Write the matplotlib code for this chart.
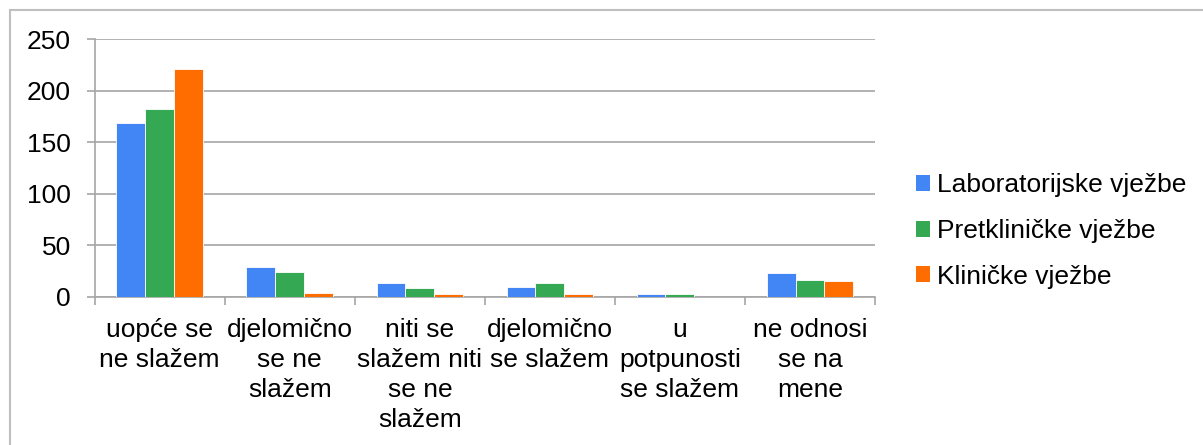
import numpy as np
import matplotlib.pyplot as plt
from matplotlib.patches import Rectangle, Patch

plt.rcParams['font.family'] = ['Liberation Sans', 'DejaVu Sans']

categories = ['uopće se\nne slažem', 'djelomično\nse ne\nslažem', 'niti se\nslažem niti\nse ne\nslažem',
              'djelomično\nse slažem', 'u\npotpunosti\nse slažem', 'ne odnosi\nse na\nmene']
series_names = ['Laboratorijske vježbe', 'Pretkliničke vježbe', 'Kliničke vježbe']
laboratorijske = [169, 29, 13, 9, 3, 23]
pretklinicke = [182, 24, 8, 13, 3, 16]
klinicke = [221, 4, 3, 3, 0, 15]
colors = ['#4285F4', '#34A853', '#FF6D01']

fs = 19
grey = '#A6A6A6'

fig = plt.figure(figsize=(12.03, 4.45), dpi=100)
ax = fig.add_axes([94.7 / 1203, 148.3 / 445, 780.3 / 1203, 257.4 / 445])

x = np.arange(len(categories))
w = 0.222
for i, (vals, c) in enumerate(zip([laboratorijske, pretklinicke, klinicke], colors)):
    ax.bar(x + (i - 1) * w, vals, w, color=c, edgecolor='white', linewidth=0.6, zorder=3)

ax.set_xlim(-0.5, len(categories) - 0.5)
ax.set_ylim(0, 250)
ax.set_yticks(np.arange(0, 251, 50))
ax.grid(axis='y', color=grey, linewidth=1.2, zorder=0)
ax.set_xticks(x)
ax.set_xticklabels(categories, fontsize=fs, linespacing=1.33)
ax.set_xticks(np.arange(-0.5, len(categories), 1), minor=True)
ax.tick_params(axis='x', which='major', length=0, pad=15)
ax.tick_params(axis='x', which='minor', length=6, color=grey, width=1.2)
ax.tick_params(axis='y', length=6, color=grey, width=1.2, pad=11, labelsize=fs)

for s in ['top', 'right']:
    ax.spines[s].set_visible(False)
for s in ['left', 'bottom']:
    ax.spines[s].set_color(grey)
    ax.spines[s].set_linewidth(1.2)

handles = [Patch(facecolor=c) for c in colors]
fig.legend(handles, series_names, loc='center left', bbox_to_anchor=(892 / 1203, 1 - 231 / 445),
           frameon=False, fontsize=fs, handlelength=0.55, handleheight=0.55,
           handletextpad=0.25, labelspacing=0.82)

fig.patches.append(Rectangle((9.5 / 1203, -0.1), 1.2, (445 - 9.5) / 445 + 0.1, transform=fig.transFigure,
                             fill=False, edgecolor='#BFBFBF', linewidth=1.5))

fig.savefig('out.png', dpi=100)
